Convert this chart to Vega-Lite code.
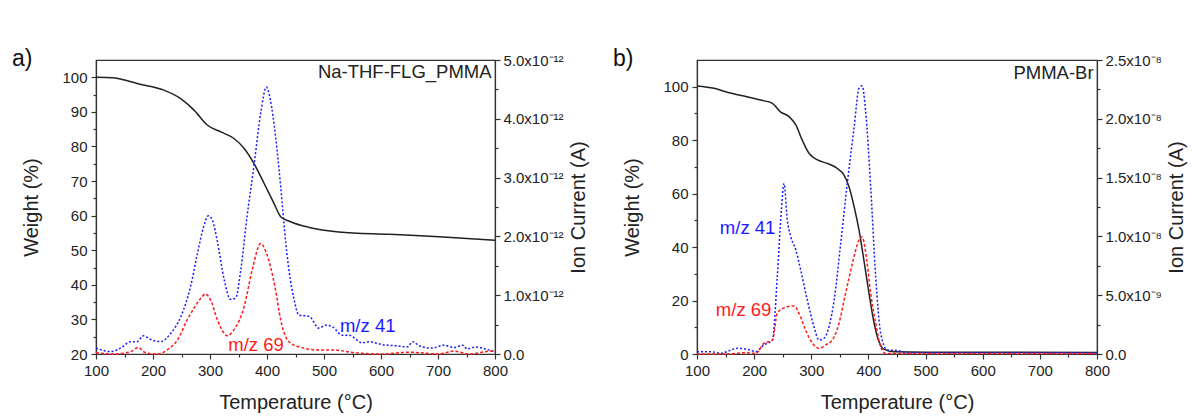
{
  "$schema": "https://vega.github.io/schema/vega-lite/v6.json",
  "padding": {"left": 11, "top": 47, "right": 0, "bottom": 0},
  "background": "white",
  "spacing": 23,
  "config": {
    "font": "Liberation Sans",
    "view": {"stroke": "#333333", "strokeWidth": 1.2},
    "axis": {
      "grid": false,
      "domainColor": "#333333",
      "domainWidth": 1.2,
      "tickColor": "#333333",
      "tickWidth": 1.2,
      "labelFont": "Liberation Sans",
      "labelFontSize": 15,
      "labelColor": "#222222",
      "labelOverlap": false,
      "labelFlush": false,
      "titleFont": "Liberation Sans",
      "titleFontSize": 20,
      "titleFontWeight": "normal",
      "titleColor": "#222222"
    },
    "line": {"interpolate": "monotone"},
    "title": {"font": "Liberation Sans", "fontSize": 23, "fontWeight": "normal", "color": "#111111"}
  },
  "datasets": {
    "a_tga": [
      {"T": 100, "weight": 100.0}, {"T": 130, "weight": 99.9}, {"T": 150, "weight": 99.2},
      {"T": 172, "weight": 98.2}, {"T": 219, "weight": 96.3}, {"T": 248, "weight": 93.9},
      {"T": 272, "weight": 90.5}, {"T": 295, "weight": 86.2}, {"T": 319, "weight": 84.2},
      {"T": 342, "weight": 82.3}, {"T": 360, "weight": 79.4}, {"T": 377, "weight": 75.1},
      {"T": 395, "weight": 69.3}, {"T": 412, "weight": 63.6}, {"T": 424, "weight": 59.7},
      {"T": 440, "weight": 58.3}, {"T": 474, "weight": 56.6}, {"T": 526, "weight": 55.3},
      {"T": 614, "weight": 54.6}, {"T": 702, "weight": 53.9}, {"T": 800, "weight": 52.9}
    ],
    "a_ms": [
      {"mz": "41", "T": 100, "ion": 1.0e-13}, {"mz": "41", "T": 126, "ion": 4e-14}, {"mz": "41", "T": 143, "ion": 1.0e-13},
      {"mz": "41", "T": 161, "ion": 2.1e-13}, {"mz": "41", "T": 172, "ion": 2.1e-13}, {"mz": "41", "T": 183, "ion": 3.1e-13},
      {"mz": "41", "T": 195, "ion": 2.5e-13}, {"mz": "41", "T": 213, "ion": 2.1e-13}, {"mz": "41", "T": 231, "ion": 3.5e-13},
      {"mz": "41", "T": 249, "ion": 6.4e-13}, {"mz": "41", "T": 266, "ion": 1.15e-12}, {"mz": "41", "T": 278, "ion": 1.71e-12},
      {"mz": "41", "T": 289, "ion": 2.17e-12}, {"mz": "41", "T": 297, "ion": 2.35e-12}, {"mz": "41", "T": 304, "ion": 2.28e-12},
      {"mz": "41", "T": 313, "ion": 1.91e-12}, {"mz": "41", "T": 325, "ion": 1.26e-12}, {"mz": "41", "T": 336, "ion": 9.3e-13},
      {"mz": "41", "T": 345, "ion": 9.5e-13}, {"mz": "41", "T": 354, "ion": 1.43e-12}, {"mz": "41", "T": 365, "ion": 2.34e-12},
      {"mz": "41", "T": 377, "ion": 3.19e-12}, {"mz": "41", "T": 389, "ion": 4.10e-12}, {"mz": "41", "T": 399, "ion": 4.54e-12},
      {"mz": "41", "T": 406, "ion": 4.32e-12}, {"mz": "41", "T": 415, "ion": 3.70e-12}, {"mz": "41", "T": 424, "ion": 2.85e-12},
      {"mz": "41", "T": 433, "ion": 1.88e-12}, {"mz": "41", "T": 441, "ion": 1.26e-12}, {"mz": "41", "T": 447, "ion": 9.5e-13},
      {"mz": "41", "T": 456, "ion": 6.6e-13}, {"mz": "41", "T": 474, "ion": 6.4e-13}, {"mz": "41", "T": 491, "ion": 4.4e-13},
      {"mz": "41", "T": 503, "ion": 4.9e-13}, {"mz": "41", "T": 515, "ion": 4.6e-13}, {"mz": "41", "T": 532, "ion": 3.2e-13},
      {"mz": "41", "T": 544, "ion": 3.2e-13}, {"mz": "41", "T": 567, "ion": 1.9e-13}, {"mz": "41", "T": 579, "ion": 2.1e-13},
      {"mz": "41", "T": 602, "ion": 1.6e-13}, {"mz": "41", "T": 626, "ion": 1.4e-13}, {"mz": "41", "T": 646, "ion": 1.2e-13},
      {"mz": "41", "T": 656, "ion": 2.1e-13}, {"mz": "41", "T": 667, "ion": 1.4e-13}, {"mz": "41", "T": 690, "ion": 1.0e-13},
      {"mz": "41", "T": 710, "ion": 1.5e-13}, {"mz": "41", "T": 728, "ion": 1.1e-13}, {"mz": "41", "T": 743, "ion": 1.5e-13},
      {"mz": "41", "T": 751, "ion": 8.5e-14}, {"mz": "41", "T": 766, "ion": 1.2e-13}, {"mz": "41", "T": 783, "ion": 8.5e-14},
      {"mz": "41", "T": 800, "ion": 4e-14},
      {"mz": "69", "T": 100, "ion": 2e-14}, {"mz": "69", "T": 131, "ion": 0}, {"mz": "69", "T": 161, "ion": 4e-14},
      {"mz": "69", "T": 174, "ion": 1.1e-13}, {"mz": "69", "T": 187, "ion": 2e-14}, {"mz": "69", "T": 208, "ion": 0},
      {"mz": "69", "T": 225, "ion": 7e-14}, {"mz": "69", "T": 243, "ion": 2.4e-13}, {"mz": "69", "T": 260, "ion": 5.8e-13},
      {"mz": "69", "T": 272, "ion": 7.8e-13}, {"mz": "69", "T": 284, "ion": 9.5e-13}, {"mz": "69", "T": 292, "ion": 1.02e-12},
      {"mz": "69", "T": 301, "ion": 9.2e-13}, {"mz": "69", "T": 313, "ion": 5.8e-13}, {"mz": "69", "T": 325, "ion": 3.5e-13},
      {"mz": "69", "T": 330, "ion": 3.1e-13}, {"mz": "69", "T": 342, "ion": 4.1e-13}, {"mz": "69", "T": 360, "ion": 8.1e-13},
      {"mz": "69", "T": 374, "ion": 1.43e-12}, {"mz": "69", "T": 389, "ion": 1.88e-12}, {"mz": "69", "T": 398, "ion": 1.74e-12},
      {"mz": "69", "T": 406, "ion": 1.49e-12}, {"mz": "69", "T": 415, "ion": 1.09e-12}, {"mz": "69", "T": 424, "ion": 5.8e-13},
      {"mz": "69", "T": 433, "ion": 2.9e-13}, {"mz": "69", "T": 447, "ion": 1.5e-13}, {"mz": "69", "T": 456, "ion": 1.2e-13},
      {"mz": "69", "T": 491, "ion": 7e-14}, {"mz": "69", "T": 515, "ion": 7e-14}, {"mz": "69", "T": 555, "ion": 2e-14},
      {"mz": "69", "T": 602, "ion": 0}, {"mz": "69", "T": 649, "ion": 3e-14}, {"mz": "69", "T": 702, "ion": 0},
      {"mz": "69", "T": 728, "ion": 5e-14}, {"mz": "69", "T": 754, "ion": 0}, {"mz": "69", "T": 795, "ion": 5e-14},
      {"mz": "69", "T": 800, "ion": 4e-14}
    ],
    "a_lab": [
      {"T": 528, "weight": 28.1, "label": "m/z 41", "mz": "41"},
      {"T": 332, "weight": 22.6, "label": "m/z 69", "mz": "69"}
    ],
    "a_name": [{"T": 794, "weight": 104, "label": "Na-THF-FLG_PMMA"}],
    "b_tga": [
      {"T": 100, "weight": 100.3}, {"T": 130, "weight": 99.4}, {"T": 153, "weight": 97.9},
      {"T": 182, "weight": 96.5}, {"T": 211, "weight": 95.0}, {"T": 232, "weight": 93.8},
      {"T": 246, "weight": 90.6}, {"T": 261, "weight": 88.8}, {"T": 273, "weight": 85.7},
      {"T": 284, "weight": 80.1}, {"T": 296, "weight": 75.1}, {"T": 311, "weight": 72.6},
      {"T": 328, "weight": 71.3}, {"T": 345, "weight": 69.5}, {"T": 357, "weight": 67.0},
      {"T": 366, "weight": 62.6}, {"T": 375, "weight": 55.1}, {"T": 383.5, "weight": 46.4},
      {"T": 392, "weight": 35.2}, {"T": 401, "weight": 22.7}, {"T": 410, "weight": 11.5},
      {"T": 418.5, "weight": 4.6}, {"T": 427, "weight": 1.8}, {"T": 445, "weight": 0.8},
      {"T": 500, "weight": 0.7}, {"T": 800, "weight": 0.6}
    ],
    "b_ms": [
      {"mz": "41", "T": 100, "ion": 2e-10}, {"mz": "41", "T": 124, "ion": 2e-10}, {"mz": "41", "T": 141, "ion": 6e-11},
      {"mz": "41", "T": 171, "ion": 4.8e-10}, {"mz": "41", "T": 188, "ion": 4e-10}, {"mz": "41", "T": 203, "ion": 2e-10},
      {"mz": "41", "T": 217, "ion": 7.7e-10}, {"mz": "41", "T": 232, "ion": 1.19e-9}, {"mz": "41", "T": 240.5, "ion": 6.57e-9},
      {"mz": "41", "T": 247.6, "ion": 1.22e-8}, {"mz": "41", "T": 252.3, "ion": 1.45e-8}, {"mz": "41", "T": 258, "ion": 1.14e-8},
      {"mz": "41", "T": 264, "ion": 1.0e-8}, {"mz": "41", "T": 273, "ion": 8.84e-9}, {"mz": "41", "T": 281.5, "ion": 7.14e-9},
      {"mz": "41", "T": 293, "ion": 4.59e-9}, {"mz": "41", "T": 304.7, "ion": 2.32e-9}, {"mz": "41", "T": 313.5, "ion": 1.19e-9},
      {"mz": "41", "T": 322, "ion": 1.33e-9}, {"mz": "41", "T": 331, "ion": 2.32e-9}, {"mz": "41", "T": 340, "ion": 4.59e-9},
      {"mz": "41", "T": 351.5, "ion": 9.41e-9}, {"mz": "41", "T": 363, "ion": 1.45e-8}, {"mz": "41", "T": 375, "ion": 1.93e-8},
      {"mz": "41", "T": 383.5, "ion": 2.26e-8}, {"mz": "41", "T": 389, "ion": 2.28e-8}, {"mz": "41", "T": 395, "ion": 2.07e-8},
      {"mz": "41", "T": 404, "ion": 1.42e-8}, {"mz": "41", "T": 412.7, "ion": 6.57e-9}, {"mz": "41", "T": 421.5, "ion": 1.76e-9},
      {"mz": "41", "T": 433, "ion": 3.4e-10}, {"mz": "41", "T": 450, "ion": 3e-10}, {"mz": "41", "T": 470, "ion": 1e-10},
      {"mz": "41", "T": 800, "ion": 1e-10},
      {"mz": "69", "T": 100, "ion": 0}, {"mz": "69", "T": 153, "ion": 0}, {"mz": "69", "T": 182, "ion": 1.1e-10},
      {"mz": "69", "T": 203, "ion": 5e-11}, {"mz": "69", "T": 217, "ion": 9e-10}, {"mz": "69", "T": 232, "ion": 1.19e-9},
      {"mz": "69", "T": 240.5, "ion": 3.46e-9}, {"mz": "69", "T": 247.6, "ion": 3.8e-9}, {"mz": "69", "T": 258, "ion": 4.02e-9},
      {"mz": "69", "T": 270, "ion": 4.08e-9}, {"mz": "69", "T": 278.5, "ion": 3.46e-9}, {"mz": "69", "T": 290, "ion": 2.04e-9},
      {"mz": "69", "T": 302, "ion": 9.1e-10}, {"mz": "69", "T": 313.5, "ion": 4.8e-10}, {"mz": "69", "T": 325, "ion": 7.7e-10},
      {"mz": "69", "T": 337, "ion": 1.19e-9}, {"mz": "69", "T": 348.5, "ion": 2.61e-9}, {"mz": "69", "T": 360, "ion": 5.16e-9},
      {"mz": "69", "T": 372, "ion": 7.71e-9}, {"mz": "69", "T": 383.5, "ion": 9.69e-9}, {"mz": "69", "T": 389, "ion": 9.97e-9},
      {"mz": "69", "T": 395, "ion": 8.7e-9}, {"mz": "69", "T": 404, "ion": 5.16e-9}, {"mz": "69", "T": 412.7, "ion": 2.61e-9},
      {"mz": "69", "T": 421.5, "ion": 6.2e-10}, {"mz": "69", "T": 430, "ion": 5e-11}, {"mz": "69", "T": 800, "ion": 5e-11}
    ],
    "b_lab": [
      {"T": 140, "weight": 47.1, "label": "m/z 41", "mz": "41"},
      {"T": 133, "weight": 16.5, "label": "m/z 69", "mz": "69"}
    ],
    "b_name": [{"T": 794, "weight": 108.5, "label": "PMMA-Br"}]
  },
  "hconcat": [
    {
      "title": {"text": "a)", "anchor": "start", "frame": "bounds", "offset": -18, "dx": -10},
      "width": 399,
      "height": 294,
      "encoding": {
        "x": {
          "field": "T", "type": "quantitative",
          "scale": {"domain": [100, 800], "nice": false},
          "axis": {
            "title": "Temperature (°C)",
            "values": [100, 150, 200, 250, 300, 350, 400, 450, 500, 550, 600, 650, 700, 750, 800],
            "labelExpr": "datum.value % 100 == 0 ? format(datum.value, 'd') : ''",
            "tickSize": {"condition": {"test": "datum.value % 100 != 0", "value": 3}, "value": 5},
            "labelOverlap": false,
            "labelPadding": 4,
            "titlePadding": 14
          }
        }
      },
      "layer": [
        {
          "encoding": {
            "y": {
              "field": "weight", "type": "quantitative",
              "scale": {"domain": [20, 105], "nice": false, "zero": false},
              "axis": {
                "orient": "left",
                "title": "Weight (%)",
                "values": [20, 25, 30, 35, 40, 45, 50, 55, 60, 65, 70, 75, 80, 85, 90, 95, 100],
                "labelExpr": "datum.value % 10 == 0 ? format(datum.value, 'd') : ''",
                "tickSize": {"condition": {"test": "datum.value % 10 != 0", "value": 3}, "value": 5},
                "labelOverlap": false,
                "labelPadding": 4,
                "titlePadding": 20
              }
            }
          },
          "layer": [
            {
              "data": {"name": "a_tga"},
              "mark": {"type": "line", "color": "#222222", "strokeWidth": 1.5},
              "encoding": {}
            },
            {
              "data": {"name": "a_lab"},
              "mark": {"type": "text", "align": "left", "baseline": "middle", "fontSize": 18.5},
              "encoding": {
                "text": {"field": "label"},
                "color": {"field": "mz", "type": "nominal", "scale": {"domain": ["41", "69"], "range": ["#1a1aff", "#ff1a1a"]}, "legend": null}
              }
            },
            {
              "data": {"name": "a_name"},
              "mark": {"type": "text", "align": "right", "baseline": "top", "fontSize": 18.5, "color": "#222222"},
              "encoding": {
                "text": {"field": "label"}
              }
            }
          ]
        },
        {
          "data": {"name": "a_ms"},
          "mark": {"type": "line", "strokeWidth": 1.5},
          "encoding": {
            "y": {
              "field": "ion", "type": "quantitative",
              "scale": {"domain": [0, 5e-12], "nice": false},
              "axis": {
                "orient": "right",
                "title": "Ion Current (A)",
                "titleAngle": 270,
                "titleBaseline": "top",
                "titlePadding": 5,
                "labelPadding": 3,
                "labelOverlap": false,
                "values": [0, 5e-13, 1e-12, 1.5e-12, 2e-12, 2.5e-12, 3e-12, 3.5e-12, 4e-12, 4.5e-12, 5e-12],
                "labelExpr": "datum.value == 0 ? '0.0' : (abs(datum.value / 1e-12 - round(datum.value / 1e-12)) < 0.01 ? format(datum.value / 1e-12, '.1f') + 'x10⁻¹²' : '')",
                "tickSize": {"condition": {"test": "abs(datum.value / 1e-12 - round(datum.value / 1e-12)) > 0.01", "value": 3}, "value": 5}
              }
            },
            "color": {"field": "mz", "type": "nominal", "scale": {"domain": ["41", "69"], "range": ["#1a1aff", "#ff1a1a"]}, "legend": null},
            "strokeDash": {"field": "mz", "type": "nominal", "scale": {"domain": ["41", "69"], "range": [[2, 2], [3, 2]]}, "legend": null}
          }
        }
      ],
      "resolve": {"scale": {"y": "independent"}}
    },
    {
      "title": {"text": "b)", "anchor": "start", "frame": "bounds", "offset": -18, "dx": -10},
      "width": 400,
      "height": 294,
      "encoding": {
        "x": {
          "field": "T", "type": "quantitative",
          "scale": {"domain": [100, 800], "nice": false},
          "axis": {
            "title": "Temperature (°C)",
            "values": [100, 150, 200, 250, 300, 350, 400, 450, 500, 550, 600, 650, 700, 750, 800],
            "labelExpr": "datum.value % 100 == 0 ? format(datum.value, 'd') : ''",
            "tickSize": {"condition": {"test": "datum.value % 100 != 0", "value": 3}, "value": 5},
            "labelOverlap": false,
            "labelPadding": 4,
            "titlePadding": 14
          }
        }
      },
      "layer": [
        {
          "encoding": {
            "y": {
              "field": "weight", "type": "quantitative",
              "scale": {"domain": [0, 110], "nice": false},
              "axis": {
                "orient": "left",
                "title": "Weight (%)",
                "values": [0, 10, 20, 30, 40, 50, 60, 70, 80, 90, 100],
                "labelExpr": "datum.value % 20 == 0 ? format(datum.value, 'd') : ''",
                "tickSize": {"condition": {"test": "datum.value % 20 != 0", "value": 3}, "value": 5},
                "labelOverlap": false,
                "labelPadding": 4,
                "titlePadding": 20
              }
            }
          },
          "layer": [
            {
              "data": {"name": "b_tga"},
              "mark": {"type": "line", "color": "#222222", "strokeWidth": 1.5},
              "encoding": {}
            },
            {
              "data": {"name": "b_lab"},
              "mark": {"type": "text", "align": "left", "baseline": "middle", "fontSize": 18.5},
              "encoding": {
                "text": {"field": "label"},
                "color": {"field": "mz", "type": "nominal", "scale": {"domain": ["41", "69"], "range": ["#1a1aff", "#ff1a1a"]}, "legend": null}
              }
            },
            {
              "data": {"name": "b_name"},
              "mark": {"type": "text", "align": "right", "baseline": "top", "fontSize": 18.5, "color": "#222222"},
              "encoding": {
                "text": {"field": "label"}
              }
            }
          ]
        },
        {
          "data": {"name": "b_ms"},
          "mark": {"type": "line", "strokeWidth": 1.5},
          "encoding": {
            "y": {
              "field": "ion", "type": "quantitative",
              "scale": {"domain": [0, 2.5e-8], "nice": false},
              "axis": {
                "orient": "right",
                "title": "Ion Current (A)",
                "titleAngle": 270,
                "titleBaseline": "top",
                "titlePadding": 5,
                "labelPadding": 3,
                "labelOverlap": false,
                "values": [0, 2.5e-9, 5e-9, 7.5e-9, 1e-8, 1.25e-8, 1.5e-8, 1.75e-8, 2e-8, 2.25e-8, 2.5e-8],
                "labelExpr": "datum.value == 0 ? '0.0' : (abs(datum.value / 5e-9 - round(datum.value / 5e-9)) > 0.01 ? '' : (datum.value < 9e-9 ? format(datum.value * 1e9, '.1f') + 'x10⁻⁹' : format(datum.value * 1e8, '.1f') + 'x10⁻⁸'))",
                "tickSize": {"condition": {"test": "abs(datum.value / 5e-9 - round(datum.value / 5e-9)) > 0.01", "value": 3}, "value": 5}
              }
            },
            "color": {"field": "mz", "type": "nominal", "scale": {"domain": ["41", "69"], "range": ["#1a1aff", "#ff1a1a"]}, "legend": null},
            "strokeDash": {"field": "mz", "type": "nominal", "scale": {"domain": ["41", "69"], "range": [[2, 2], [3, 2]]}, "legend": null}
          }
        }
      ],
      "resolve": {"scale": {"y": "independent"}}
    }
  ]
}
